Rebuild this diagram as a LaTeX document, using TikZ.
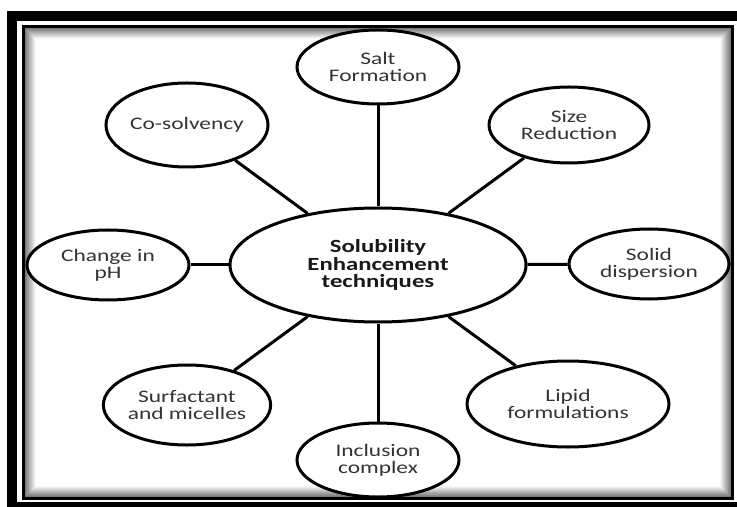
\documentclass[tikz,border=0pt]{standalone}
\usepackage{fontspec}
\setmainfont{Carlito}[FakeStretch=1.33]
\usepackage{tikz}
\usetikzlibrary{shapes.geometric}
\tikzset{
  mainellipse/.style={ellipse, draw=black, fill=white, line width=1.5pt, inner sep=0pt, font=\fontsize{9.3}{8.6}\selectfont\bfseries, align=center, text=black!90},
  techellipse/.style={ellipse, draw=black, fill=white, line width=1.5pt, inner sep=0pt, font=\fontsize{8.8}{8.6}\selectfont, align=center, text=black!80},
  link/.style={line width=1.5pt, black}
}

\begin{document}
\begin{tikzpicture}[x=0.5pt, y=-0.5pt]
  \useasboundingbox (0,0) rectangle (737,507);
  % frame
  \fill[black] (7,11) rectangle (737,507);
  \fill[white] (17,21) rectangle (737,502);
  \foreach \i in {1,...,12}{
    \pgfmathtruncatemacro\shade{62-5*\i}
    \draw[black!\shade, line width=0.55pt] (23.5+\i,27+\i) rectangle (732.5-\i,498.5-\i);
  }
  \draw[line width=1.5pt] (23.5,27) rectangle (732.5,498.5);

  % nodes
  \node[mainellipse, minimum width=148pt, minimum height=57pt] (sol) at (378,265) {Solubility\\Enhancement\\techniques};
  \node[techellipse, minimum width=81pt, minimum height=37pt] (salt) at (378,67) {Salt\\Formation};
  \node[techellipse, minimum width=80pt, minimum height=38pt] (size) at (569,125) {Size\\Reduction};
  \node[techellipse, minimum width=81pt, minimum height=42pt] (cosolv) at (187,125) {Co-solvency};
  \node[techellipse, minimum width=81pt, minimum height=35pt] (ph) at (108,265) {Change in\\pH};
  \node[techellipse, minimum width=80pt, minimum height=35pt] (solid) at (649,264) {Solid\\dispersion};
  \node[techellipse, minimum width=80pt, minimum height=40pt] (surf) at (187,405) {Surfactant\\and micelles};
  \node[techellipse, minimum width=101pt, minimum height=43pt] (lipid) at (568,404) {Lipid\\formulations};
  \node[techellipse, minimum width=81pt, minimum height=37pt] (incl) at (378,460) {Inclusion\\complex};

  % links
  \foreach \t in {salt,size,cosolv,ph,solid,surf,lipid,incl}
    \draw[link] (sol) -- (\t);
\end{tikzpicture}
\end{document}
